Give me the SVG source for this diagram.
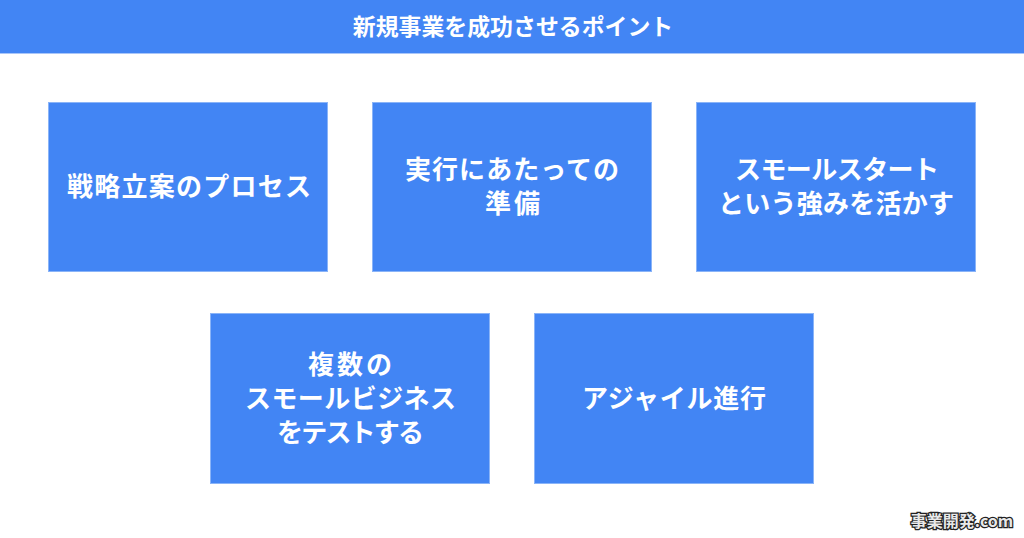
<svg xmlns="http://www.w3.org/2000/svg" width="1024" height="538" viewBox="0 0 1024 538">
<style>
.b{fill:#4285f4;stroke:#8ab4f8;stroke-width:1}
text{font-family:"Noto Sans CJK JP","Noto Sans",sans-serif;font-weight:700;fill:#fff;text-anchor:middle}
.n{font-size:26px}
</style>
<rect width="1024" height="538" fill="#fff"/>
<g id="title"><rect x="0" y="0" width="1024" height="53" fill="#4285f4"/><rect x="0" y="53" width="1024" height="1" fill="#a9c6f9"/><text x="513" y="35" font-size="22.900">新規事業を成功させるポイント</text></g>
<g id="connectors"></g>
<g id="n1"><rect class="b" x="48.500" y="102.500" width="279" height="169"/><text class="n" x="189" y="196" textLength="244">戦略立案のプロセス</text></g>
<g id="n2"><rect class="b" x="372.500" y="102.500" width="279" height="169"/><text class="n" x="512" y="179" textLength="214">実行にあたっての</text><text class="n" x="512.500" y="213" textLength="55">準備</text></g>
<g id="n3"><rect class="b" x="696.500" y="102.500" width="279" height="169"/><text class="n" x="837" y="179" textLength="204">スモールスタート</text><text class="n" x="836" y="213" textLength="236">という強みを活かす</text></g>
<g id="n4"><rect class="b" x="210.500" y="313.500" width="279" height="170"/><text class="n" x="350" y="374" textLength="84">複数の</text><text class="n" x="350.500" y="408" textLength="211">スモールビジネス</text><text class="n" x="350.500" y="442" textLength="147">をテストする</text></g>
<g id="n5"><rect class="b" x="534.500" y="313.500" width="279" height="170"/><text class="n" x="674" y="408" textLength="184">アジャイル進行</text></g>
<g id="logo"><text x="962" y="527" font-size="16" style="fill:#e8e8e8;stroke:#222;stroke-width:2.500;paint-order:stroke">事業開発.com</text></g>
</svg>
